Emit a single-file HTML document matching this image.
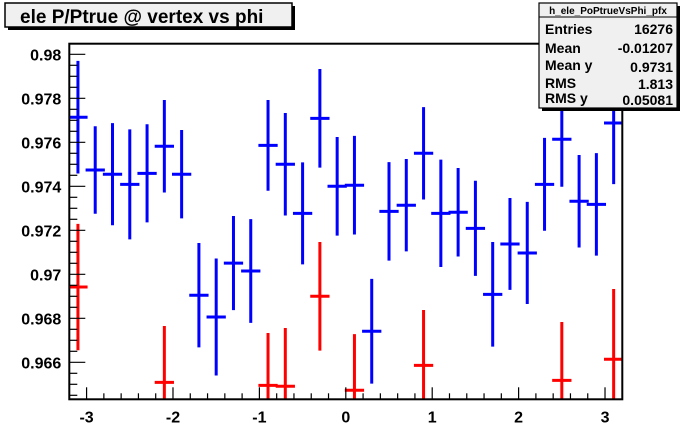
<!DOCTYPE html>
<html><head><meta charset="utf-8"><style>
html,body{margin:0;padding:0;background:#fff;}
svg{display:block;font-family:"Liberation Sans",Arial,sans-serif;font-weight:bold;}
</style></head><body>
<svg id="c" width="692" height="444" viewBox="0 0 692 444">
  <rect x="0" y="0" width="692" height="444" fill="#fff"/>
  <g id="marks"></g>
  <g id="axes"></g>
  <g>
    <rect x="8" y="6" width="287" height="24" fill="#000"/>
    <rect x="5" y="3" width="287" height="24" fill="#f0f0f0" stroke="#000" stroke-width="1.5"/>
    <text x="20" y="23" font-size="19" fill="#000">ele P/Ptrue @ vertex vs phi</text>
  </g>
  <g>
    <rect x="542" y="6" width="138" height="105" fill="#000"/>
    <rect x="539" y="3" width="138" height="105" fill="#f0f0f0" stroke="#000" stroke-width="1.2"/>
    <line x1="539" y1="17" x2="677" y2="17" stroke="#000" stroke-width="1"/>
    <text x="608" y="14" font-size="10" text-anchor="middle">h_ele_PoPtrueVsPhi_pfx</text>
    <text x="545" y="34" font-size="14">Entries</text>
    <text x="673" y="34" font-size="14" text-anchor="end">16276</text>
    <text x="545" y="53" font-size="14">Mean</text>
    <text x="673" y="53" font-size="14" text-anchor="end">-0.01207</text>
    <text x="545" y="70" font-size="14">Mean y</text>
    <text x="673" y="72" font-size="14" text-anchor="end">0.9731</text>
    <text x="545" y="88" font-size="14">RMS</text>
    <text x="673" y="89" font-size="14" text-anchor="end">1.813</text>
    <text x="545" y="103" font-size="14">RMS y</text>
    <text x="673" y="105" font-size="14" text-anchor="end">0.05081</text>
  </g>
</svg>
<script>
const binCenters = [-3.1,-2.9,-2.7,-2.5,-2.3,-2.1,-1.9,-1.7,-1.5,-1.3,-1.1,-0.9,-0.7,-0.5,-0.3,-0.1,0.1,0.3,0.5,0.7,0.9,1.1,1.3,1.5,1.7,1.9,2.1,2.3,2.5,2.7,2.9,3.1];
const blueValues = [0.97714,0.97474,0.97455,0.97409,0.97459,0.97582,0.97455,0.96905,0.96806,0.97051,0.97015,0.97586,0.97500,0.97277,0.97709,0.97400,0.97405,0.96741,0.97286,0.97314,0.97550,0.97277,0.97282,0.97209,0.96909,0.97138,0.97097,0.97409,0.97614,0.97332,0.97318,0.97688];
const blueErrors = [0.00256,0.00199,0.00232,0.00250,0.00223,0.00210,0.00201,0.00237,0.00266,0.00214,0.00236,0.00206,0.00233,0.00232,0.00224,0.00224,0.00224,0.00238,0.00224,0.00210,0.00210,0.00244,0.00201,0.00216,0.00238,0.00209,0.00232,0.00211,0.00216,0.00210,0.00233,0.00278];
const redX = [-3.1,-2.1,-0.9,-0.7,-0.3,0.1,0.9,2.5,3.1];
const redValues = [0.96942,0.96509,0.96495,0.96491,0.96900,0.96473,0.96586,0.96518,0.96614];
const redErrors = [0.00287,0.00256,0.00238,0.00265,0.00247,0.00255,0.00252,0.00265,0.00319];
const xTicks = [-3,-2,-1,0,1,2,3];
const xTickLabels = ["-3","-2","-1","0","1","2","3"];
const yTicks = [0.966,0.968,0.97,0.972,0.974,0.976,0.978,0.98];
const yTickLabels = ["0.966","0.968","0.97","0.972","0.974","0.976","0.978","0.98"];

const X0=69.3, X1=622.3, Y0=399.3, Y1=43.7;
const xMin=-3.2, xMax=3.2;
const yMin=0.966-(399.3-362.3)/22000, yMax=0.98+(54.3-43.7)/22000;
const xs=v=>X0+(v-xMin)/(xMax-xMin)*(X1-X0);
const ys=v=>Y0-(v-yMin)/(yMax-yMin)*(Y0-Y1);
const NS='http://www.w3.org/2000/svg';
const marks=document.getElementById('marks'), axes=document.getElementById('axes');
function mk(tag,attrs,parent){const e=document.createElementNS(NS,tag);for(const k in attrs)e.setAttribute(k,attrs[k]);parent.appendChild(e);return e;}

// clip
const defs=mk('defs',{},marks);
const cp=mk('clipPath',{id:'clip'},defs);
mk('rect',{x:X0,y:Y1,width:X1-X0,height:Y0-Y1},cp);
const g=mk('g',{'clip-path':'url(#clip)'},marks);

function drawSeries(xv,vals,errs,color,name){
  for(let i=0;i<xv.length;i++){
    const cx=xs(xv[i]), cy=ys(vals[i]);
    const v=mk('line',{x1:cx,x2:cx,y1:ys(vals[i]+errs[i]),y2:ys(vals[i]-errs[i]),stroke:color,'stroke-width':3},g);
    
    
    const h=mk('line',{x1:xs(xv[i]-0.1)-1,x2:xs(xv[i]+0.1)+1,y1:cy,y2:cy,stroke:color,'stroke-width':3},g);
    
    
  }
}
drawSeries(binCenters,blueValues,blueErrors,'#0000ff','blue');
drawSeries(redX,redValues,redErrors,'#ff0000','red');

// frame
const fr=mk('rect',{x:X0,y:Y1,width:X1-X0,height:Y0-Y1,fill:'none',stroke:'#000','stroke-width':2},axes);


// y ticks
for(let v=0.9645;v<=0.9805;v+=0.0005){
  const yy=ys(v); if(yy<Y1||yy>Y0)continue;
  const major=Math.abs(Math.round(v*1000)/1000-v)<1e-7 && Math.round(v*1000)%2===0;
  mk('line',{x1:X0,x2:X0+(major?16:8),y1:yy,y2:yy,stroke:'#000','stroke-width':1.2},axes);
}
yTicks.forEach((v,i)=>{
  const t=mk('text',{x:X0-8,y:ys(v)+6,'font-size':16,'text-anchor':'end',fill:'#000'},axes);
  t.textContent=yTickLabels[i];
  
  
});
// x ticks
for(let k=-16;k<=16;k++){
  const v=k*0.2; const xx=xs(v); if(xx<X0||xx>X1)continue;
  const major=(k%5===0);
  mk('line',{x1:xx,x2:xx,y1:Y0,y2:Y0-(major?12:6),stroke:'#000','stroke-width':1.2},axes);
}
xTicks.forEach((v,i)=>{
  const t=mk('text',{x:xs(v),y:Y0+23,'font-size':16,'text-anchor':'middle',fill:'#000'},axes);
  t.textContent=xTickLabels[i];
  
  
});
</script>
</body></html>
